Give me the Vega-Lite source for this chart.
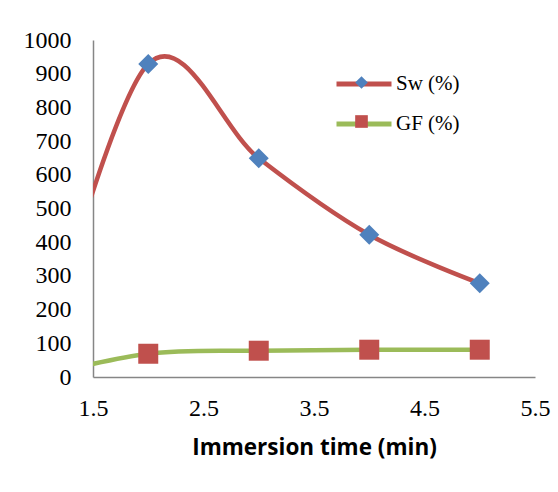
{
  "$schema": "https://vega.github.io/schema/vega-lite/v6.json",
  "autosize": {"type": "none"},
  "padding": {"left": 93, "top": 40, "right": 23, "bottom": 115},
  "width": 442,
  "height": 337,
  "background": "white",
  "config": {"view": {"stroke": null}},
  "data": {
    "values": [
      {"time": 1, "series": "Sw (%)", "value": 0},
      {"time": 2, "series": "Sw (%)", "value": 929},
      {"time": 3, "series": "Sw (%)", "value": 649},
      {"time": 4, "series": "Sw (%)", "value": 422},
      {"time": 5, "series": "Sw (%)", "value": 278},
      {"time": 1, "series": "GF (%)", "value": 0},
      {"time": 2, "series": "GF (%)", "value": 69},
      {"time": 3, "series": "GF (%)", "value": 78},
      {"time": 4, "series": "GF (%)", "value": 81},
      {"time": 5, "series": "GF (%)", "value": 81}
    ]
  },
  "encoding": {
    "x": {
      "field": "time", "type": "quantitative",
      "scale": {"domain": [1.5, 5.5], "nice": false, "zero": false},
      "axis": {
        "values": [1.5, 2.5, 3.5, 4.5, 5.5], "format": ".1f",
        "ticks": false, "grid": false,
        "domainColor": "#868686", "domainWidth": 1.5,
        "labelFont": "Liberation Serif", "labelFontSize": 24, "labelColor": "black",
        "labelPadding": 19, "labelFlush": false,
        "title": "Immersion time (min)", "titleFont": "Open Sans", "titleFontWeight": "bold",
        "titleFontSize": 22.5, "titleColor": "black", "titlePadding": 16
      }
    },
    "y": {
      "field": "value", "type": "quantitative",
      "scale": {"domain": [0, 1000], "nice": false},
      "axis": {
        "values": [0, 100, 200, 300, 400, 500, 600, 700, 800, 900, 1000], "format": "d",
        "ticks": false, "grid": false,
        "domainColor": "#868686", "domainWidth": 1.5,
        "labelFont": "Liberation Serif", "labelFontSize": 24, "labelColor": "black",
        "labelPadding": 22, "labelFlush": false,
        "title": null
      }
    }
  },
  "layer": [
    {
      "mark": {"type": "line", "interpolate": "cardinal", "clip": true, "strokeWidth": 4.5, "strokeCap": "round"},
      "encoding": {
        "stroke": {
          "field": "series", "type": "nominal",
          "scale": {"domain": ["Sw (%)", "GF (%)"], "range": ["#C0504D", "#9BBB59"]},
          "legend": {
            "orient": "none", "legendX": 241, "legendY": 14, "title": null, "padding": 0,
            "symbolType": "stroke", "symbolSize": 3025, "symbolStrokeWidth": 5,
            "labelFont": "Liberation Serif", "labelFontSize": 21, "labelColor": "black",
            "labelOffset": 2, "rowPadding": -19
          }
        }
      }
    },
    {
      "mark": {"type": "point", "filled": true, "opacity": 1, "size": 400, "clip": true},
      "encoding": {
        "shape": {
          "field": "series", "type": "nominal", "sort": "descending",
          "scale": {"range": ["diamond", "square"]},
          "legend": {
            "orient": "none", "legendX": 262, "legendY": 36, "title": null, "padding": 0,
            "symbolSize": 160, "symbolStrokeWidth": 0, "symbolOpacity": 1,
            "labelExpr": "''", "labelFontSize": 1, "labelOffset": 0, "rowPadding": 26
          }
        },
        "fill": {
          "field": "series", "type": "nominal", "sort": "descending",
          "scale": {"range": ["#4F81BD", "#C0504D"]},
          "legend": {
            "orient": "none", "legendX": 262, "legendY": 36, "title": null, "padding": 0,
            "symbolSize": 160, "symbolStrokeWidth": 0, "symbolOpacity": 1,
            "labelExpr": "''", "labelFontSize": 1, "labelOffset": 0, "rowPadding": 26
          }
        }
      }
    }
  ]
}
